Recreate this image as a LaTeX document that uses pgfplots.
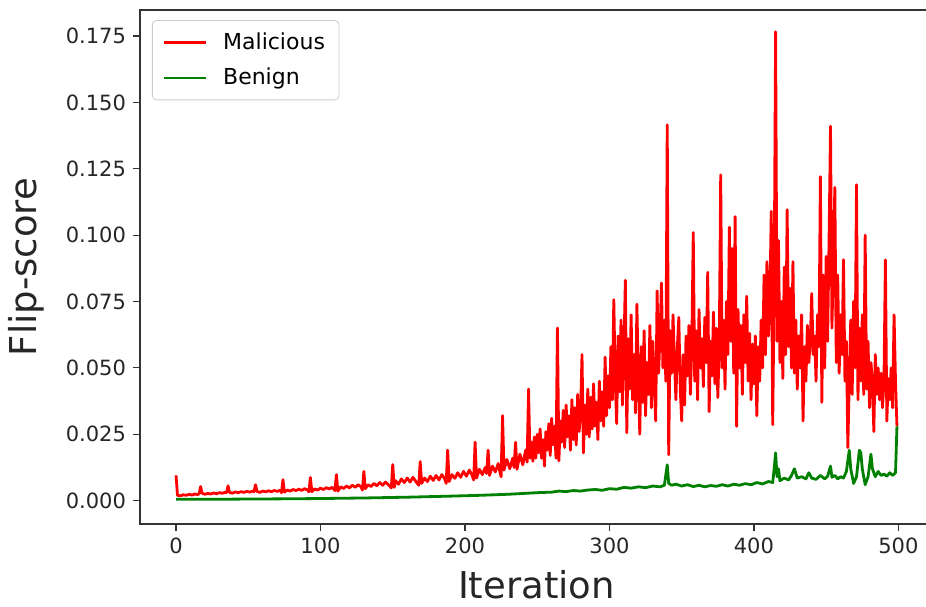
\documentclass[border=0pt]{standalone}
\usepackage{pgfplots}
\pgfplotsset{compat=1.18}
\usepackage{fontspec}
\setmainfont{DejaVu Sans}
\begin{document}
\begin{tikzpicture}
\begin{axis}[
    scale only axis,
    width=396.5pt, height=257pt,
    xmin=-24.95, xmax=523.95,
    ymin=-0.0088, ymax=0.1848,
    xtick={0,100,200,300,400,500},
    ytick={0,0.025,0.05,0.075,0.1,0.125,0.15,0.175},
    yticklabel style={/pgf/number format/.cd, fixed, fixed zerofill, precision=3},
    /pgf/number format/assume math mode=true,
    scaled y ticks=false,
    tick label style={font=\fontsize{10.5}{12}\selectfont, text=black!85},
    xtick pos=bottom, ytick pos=left,
    tick align=outside,
    major tick length=3.5pt,
    tick style={black!80, line width=0.6pt},
    axis line style={black!80, line width=0.7pt},
    xlabel={Iteration},
    ylabel={Flip-score},
    every axis x label/.style={at={(axis description cs:0.5,-0.144)}, anchor=base,
        font=\fontsize{18.5}{22}\selectfont, text=black!85},
    every axis y label/.style={at={(axis description cs:-0.13,0.5)}, rotate=90, anchor=base,
        font=\fontsize{18.5}{22}\selectfont, text=black!85},
    legend style={at={(axis description cs:0.0151,0.9805)}, anchor=north west,
        draw=black!20, rounded corners=2pt, font=\fontsize{11}{13}\selectfont,
        row sep=4pt, column sep=6pt, inner xsep=5pt, inner ysep=4pt},
    legend cell align=left,
    legend image code/.code={\draw[#1, line width=1.4pt] (0pt,0pt) -- (21pt,0pt);},
]
% Malicious
\addplot[red, line width=1.4pt, line join=round] coordinates {
(0,0.0095)(1,0.002)(3,0.0018)(5,0.0022)(7,0.002)(9,0.0024)(11,0.0021)(13,0.0025)(15,0.0023)(16,0.0026)
(17,0.0053)(18,0.0028)(20,0.0024)(22,0.0027)(24,0.0025)(26,0.0029)(28,0.0026)(30,0.003)(32,0.0028)(34,0.0031)
(35,0.003)(36,0.0056)(37,0.0031)(39,0.0028)(41,0.0033)(43,0.003)(45,0.0034)(47,0.0031)(49,0.0035)(51,0.0032)
(53,0.0036)(54,0.0034)(55,0.006)(56,0.0035)(58,0.0031)(60,0.0036)(62,0.0033)(64,0.0037)(66,0.0034)(68,0.0038)
(70,0.0035)(72,0.0039)(73,0.003)(74,0.0079)(75,0.0032)(77,0.004)(79,0.0036)(81,0.0042)(83,0.0038)(85,0.0043)
(87,0.0039)(89,0.0045)(91,0.004)(92,0.0033)(93,0.0087)(94,0.0034)(96,0.0044)(98,0.004)(100,0.0047)(102,0.0042)
(104,0.0049)(106,0.0044)(108,0.005)(110,0.0038)(111,0.0098)(112,0.0036)(114,0.0052)(116,0.0046)(118,0.0055)(120,0.0048)
(122,0.0058)(124,0.005)(126,0.006)(128,0.0052)(129,0.004)(130,0.011)(131,0.0045)(133,0.006)(135,0.0053)(137,0.0065)
(139,0.0056)(141,0.0068)(143,0.0058)(145,0.007)(147,0.006)(149,0.0048)(150,0.0136)(151,0.005)
(152,0.0075)(154,0.0062)(156,0.0082)(158,0.0068)(160,0.0085)(162,0.007)(164,0.0088)(166,0.0072)(168,0.0058)(169,0.0147)
(170,0.0065)(172,0.0085)(174,0.0072)(176,0.0092)(178,0.0076)(180,0.0095)(182,0.0078)(184,0.0098)(186,0.0082)(187,0.0065)
(188,0.019)(189,0.0072)(191,0.0098)(193,0.0084)(195,0.0105)(197,0.0088)(199,0.011)(201,0.0092)(203,0.0115)(205,0.0095)
(206,0.0078)(207,0.022)(208,0.0085)(210,0.0118)(212,0.0098)(214,0.0125)(215,0.0102)(216,0.019)(217,0.0095)(219,0.013)
(221,0.0108)(223,0.014)(224,0.0112)(225,0.009)(226,0.032)(227,0.0115)(229,0.0155)(231,0.012)(233,0.016)(234,0.0125)
(235,0.022)(236,0.0118)(238,0.0175)(240,0.0135)(242,0.019)(243,0.0145)(244,0.042)(245,0.016)(246,0.022)(247,0.0148)
(248,0.024)(249,0.016)(250,0.025)
(251,0.018)(252,0.027)(253,0.016)(254,0.023)(255,0.013)(256,0.026)(257,0.019)(258,0.029)(259,0.017)(260,0.031)
(261,0.021)(262,0.028)(263,0.016)(264,0.065)(265,0.015)(266,0.03)(267,0.022)(268,0.034)(269,0.02)(270,0.036)
(271,0.024)(272,0.032)(273,0.019)(274,0.038)(275,0.023)(276,0.035)(277,0.021)(278,0.04)(279,0.026)(280,0.033)
(281,0.055)(282,0.018)(283,0.036)(284,0.025)(285,0.042)(286,0.024)(287,0.039)(288,0.027)(289,0.044)(290,0.028)
(291,0.037)(292,0.023)(293,0.045)(294,0.03)(295,0.041)(296,0.028)(297,0.054)(298,0.032)(299,0.047)(300,0.035)
(301,0.058)(302,0.038)(303,0.0757)(304,0.045)(305,0.029)(306,0.062)(307,0.041)(308,0.068)(309,0.036)(310,0.057)
(311,0.083)(312,0.0256)(313,0.061)(314,0.042)(315,0.07)(316,0.038)(317,0.055)(318,0.033)(319,0.074)(320,0.045)
(321,0.025)(322,0.058)(323,0.037)(324,0.064)(325,0.032)(326,0.052)(327,0.04)(328,0.066)(329,0.035)(330,0.06)
(331,0.044)(332,0.03)(333,0.079)(334,0.048)(335,0.062)(336,0.082)(337,0.05)(338,0.068)(339,0.045)(340,0.1416)
(341,0.0173)(342,0.064)(343,0.048)(344,0.07)(345,0.052)
(346,0.038)(347,0.058)(348,0.069)(349,0.042)(350,0.03)(351,0.055)(352,0.036)(353,0.062)(354,0.047)(355,0.066)
(356,0.04)(357,0.058)(358,0.101)(359,0.045)(360,0.064)(361,0.038)(362,0.072)(363,0.05)(364,0.061)(365,0.043)
(366,0.069)(367,0.052)(368,0.086)(369,0.0335)(370,0.06)(371,0.047)(372,0.071)(373,0.044)(374,0.065)(375,0.0388)
(376,0.058)(377,0.1227)(378,0.05)(379,0.068)(380,0.042)(381,0.075)(382,0.055)(383,0.103)(384,0.06)(385,0.095)
(386,0.048)(387,0.107)(388,0.028)(389,0.072)(390,0.05)(391,0.066)(392,0.04)(393,0.07)(394,0.052)(395,0.077)
(396,0.045)(397,0.063)(398,0.038)(399,0.059)(400,0.044)
(401,0.062)(402,0.032)(403,0.058)(404,0.045)(405,0.068)(406,0.05)(407,0.085)(408,0.055)(409,0.09)(410,0.062)
(411,0.075)(412,0.109)(413,0.0286)(414,0.08)(415,0.1766)(416,0.06)(417,0.098)(418,0.052)(419,0.075)(420,0.046)
(421,0.088)(422,0.055)(423,0.1096)(424,0.058)(425,0.08)(426,0.05)(427,0.09)(428,0.048)(429,0.068)(430,0.042)
(431,0.062)(432,0.05)(433,0.07)(434,0.03)(435,0.058)(436,0.045)(437,0.066)(438,0.052)(439,0.06)(440,0.078)
(441,0.055)(442,0.062)(443,0.045)(444,0.07)(445,0.058)(446,0.122)(447,0.037)(448,0.085)(449,0.05)(450,0.092)
(451,0.06)(452,0.098)(453,0.141)(454,0.065)(455,0.09)(456,0.118)(457,0.052)(458,0.085)(459,0.048)(460,0.07)
(461,0.055)(462,0.0907)(463,0.045)(464,0.06)(465,0.02)
(466,0.045)(467,0.068)(468,0.04)(469,0.075)(470,0.05)(471,0.119)(472,0.038)(473,0.065)(474,0.045)(475,0.07)
(476,0.04)(477,0.1)(478,0.042)(479,0.06)(480,0.035)(481,0.052)(482,0.045)(483,0.026)(484,0.055)(485,0.04)
(486,0.05)(487,0.038)(488,0.048)(489,0.035)(490,0.045)(491,0.0907)(492,0.03)(493,0.046)(494,0.038)(495,0.05)
(496,0.035)(497,0.07)(498,0.045)(499,0.028)
};
\addlegendentry{Malicious}
% Benign
\addplot[green!50!black, line width=1.4pt, line join=round] coordinates {
(0,0.0005)(20,0.0005)(50,0.0006)(80,0.0007)(100,0.0008)(130,0.001)(160,0.0013)(190,0.0017)(210,0.002)(230,0.0024)
(250,0.003)(260,0.0032)(265,0.0036)(270,0.0034)(275,0.0038)(280,0.0036)(285,0.004)(290,0.0042)(295,0.0039)(300,0.0045)
(305,0.0043)(310,0.005)(315,0.0047)(320,0.0052)(325,0.0049)(330,0.0055)(335,0.0052)(338,0.0058)(340,0.0135)(341,0.0065)
(343,0.0058)(346,0.0062)(350,0.0055)(354,0.006)(358,0.0053)(362,0.0058)(366,0.0052)(370,0.0057)(374,0.0054)(378,0.006)
(382,0.0055)(386,0.0062)(390,0.0058)(394,0.0064)(398,0.006)(402,0.0068)(406,0.0063)(410,0.0072)(413,0.0068)(414,0.012)
(415,0.018)(416,0.009)(417,0.012)(418,0.0075)(421,0.0085)(424,0.0078)(426,0.0095)(428,0.012)(430,0.0085)(433,0.009)
(436,0.0082)(438,0.0105)(440,0.0085)(443,0.008)(446,0.0095)(449,0.0082)(451,0.0092)(453,0.013)(454,0.0088)(456,0.0095)
(458,0.0082)(460,0.009)(462,0.0085)(464,0.011)(466,0.019)(467,0.012)(469,0.0065)(471,0.009)(473,0.019)(474,0.018)
(475,0.012)(477,0.006)(479,0.009)(481,0.0175)(482,0.012)(484,0.009)(486,0.011)(488,0.0095)(490,0.01)(492,0.0092)
(494,0.0105)(496,0.0095)(498,0.0105)(499,0.028)
};
\addlegendentry{Benign}
\end{axis}
\pgfresetboundingbox
\useasboundingbox (-70pt,-41pt) rectangle (393pt,262pt);
\end{tikzpicture}
\end{document}
